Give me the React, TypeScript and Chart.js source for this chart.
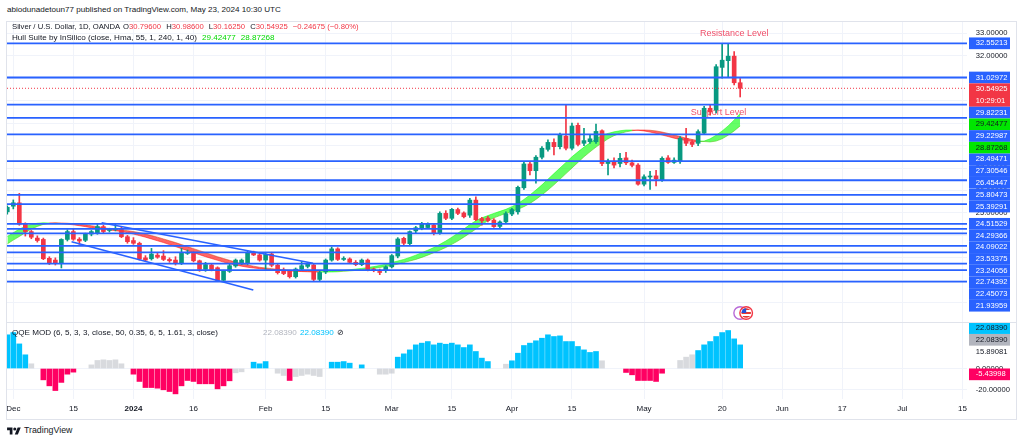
import { useEffect, useRef } from "react";
import { Chart, registerables } from "chart.js";

Chart.register(...registerables);

// Silver / U.S. Dollar, 1D, OANDA. Bar 0 is 30 Nov 2023, bar 122 is 23 May 2024.
const tickIndex = [1, 11, 21, 31, 43, 53, 64, 74, 84, 94, 106, 119, 129, 139, 149, 159];
const tickLabels = ["Dec", "15", "2024", "16", "Feb", "15", "Mar", "15", "Apr", "15", "May", "20", "Jun", "17", "Jul", "15"];

const opens = [
  25.05, 25.3, 25.45, 24.5, 24.17, 23.88, 23.82, 22.98, 22.9, 22.78,
  23.82, 24.17, 23.83, 23.78, 24.06, 24.12, 24.39, 24.22, 24.26, 24.31,
  23.94, 23.77, 23.65, 23.0, 22.96, 23.12, 23.08, 22.93, 22.9, 22.76,
  23.2, 23.2, 22.87, 22.49, 22.68, 22.56, 22.0, 22.4, 22.64, 22.75,
  22.74, 23.25, 23.13, 22.9, 23.17, 22.67, 22.45, 22.4, 22.16, 22.5,
  22.62, 22.68, 22.04, 22.38, 22.9, 23.4, 22.93, 22.95, 22.8, 22.7,
  22.9, 22.5, 22.38, 22.43, 22.6, 23.08, 23.87, 23.63, 24.2, 24.34,
  24.35, 24.46, 24.09, 24.98, 24.76, 25.15, 25.0, 24.9, 25.57, 24.75,
  24.77, 24.68, 24.4, 24.6, 24.95, 25.05, 26.12, 27.18, 26.88, 27.48,
  27.83, 28.14, 27.95, 28.42, 27.88, 28.9, 28.1, 28.17, 28.17, 28.66,
  27.2, 27.3, 27.2, 27.45, 27.23, 27.13, 26.28, 26.6, 26.65, 26.47,
  27.45, 27.25, 27.28, 28.32, 28.15, 28.1, 28.55, 29.66, 29.58, 31.48,
  31.78, 31.98, 30.796,
];
const highs = [
  25.32, 25.58, 25.87, 24.56, 24.22, 23.98, 23.88, 23.05, 23.0, 23.85,
  24.25, 24.3, 23.9, 24.1, 24.22, 24.5, 24.45, 24.32, 24.5, 24.4,
  24.0, 23.9, 23.7, 23.1, 23.42, 23.2, 23.32, 23.0, 23.05, 23.42,
  23.35, 23.28, 22.9, 22.8, 22.75, 22.6, 22.45, 22.72, 22.95, 22.95,
  23.3, 23.3, 23.2, 23.2, 23.25, 22.72, 22.55, 22.45, 22.55, 22.83,
  22.8, 22.75, 22.4, 22.95, 23.48, 23.45, 23.05, 23.0, 22.88, 22.95,
  22.95, 22.55, 22.5, 22.65, 23.15, 23.9, 23.92, 24.2, 24.4, 24.58,
  24.56, 24.5, 25.05, 25.1, 25.2, 25.22, 25.05, 25.65, 25.72, 24.8,
  24.85, 24.75, 24.65, 25.05, 25.2, 26.2, 27.25, 27.3, 27.55, 27.95,
  28.25, 28.3, 28.55, 29.8, 29.0, 29.0, 28.77, 28.5, 28.96, 28.7,
  27.4, 27.45, 27.65, 27.7, 27.35, 27.2, 26.7, 26.85, 26.9, 27.5,
  27.55, 27.45, 28.4, 28.77, 28.25, 28.7, 29.75, 29.8, 31.6, 32.52,
  32.52, 32.18, 30.986,
];
const lows = [
  24.95, 25.18, 24.45, 23.97, 23.85, 23.7, 22.92, 22.7, 22.68, 22.55,
  23.75, 23.78, 23.6, 23.72, 23.98, 24.05, 24.12, 24.15, 24.2, 23.9,
  23.65, 23.6, 22.9, 22.85, 22.9, 22.98, 22.88, 22.8, 22.68, 22.7,
  23.15, 22.82, 22.4, 22.4, 22.42, 21.95, 21.95, 22.35, 22.58, 22.7,
  22.7, 23.1, 22.85, 22.49, 22.6, 22.28, 22.25, 22.1, 22.1, 22.45,
  22.55, 21.94, 21.95, 22.3, 22.85, 22.88, 22.88, 22.75, 22.65, 22.65,
  22.42, 22.38, 22.25, 22.35, 22.55, 23.0, 23.55, 23.55, 24.12, 24.25,
  24.3, 24.02, 24.05, 24.7, 24.7, 24.92, 24.78, 24.8, 24.65, 24.46,
  24.6, 24.35, 24.3, 24.55, 24.88, 24.95, 26.05, 26.69, 26.32, 27.4,
  27.75, 27.58, 27.85, 27.8, 27.8, 27.98, 28.0, 28.1, 28.1, 27.1,
  26.69, 27.0, 27.05, 27.15, 27.05, 26.24, 26.2, 26.05, 26.2, 26.4,
  27.2, 27.2, 27.2, 28.0, 27.95, 28.0, 28.5, 29.35, 29.45, 31.0,
  31.07, 30.7, 30.1625,
];
const closes = [
  25.25, 25.45, 24.5, 24.17, 23.92, 23.77, 22.96, 22.78, 22.76, 23.82,
  24.17, 23.83, 23.75, 24.06, 24.17, 24.39, 24.17, 24.26, 24.31, 23.94,
  23.72, 23.65, 22.95, 22.9, 23.17, 23.03, 22.93, 22.87, 22.75, 23.2,
  23.25, 22.87, 22.49, 22.7, 22.48, 21.99, 22.4, 22.65, 22.9, 22.9,
  23.25, 23.13, 22.9, 23.15, 22.67, 22.34, 22.3, 22.16, 22.5, 22.65,
  22.75, 22.04, 22.35, 22.9, 23.4, 22.93, 22.97, 22.8, 22.7, 22.9,
  22.47, 22.43, 22.35, 22.6, 23.1, 23.84, 23.65, 24.17, 24.34, 24.5,
  24.52, 24.09, 24.98, 24.76, 25.16, 24.98, 24.83, 25.57, 24.7, 24.65,
  24.66, 24.39, 24.6, 24.97, 25.15, 26.14, 27.18, 26.88, 27.48, 27.88,
  28.14, 27.95, 28.46, 27.88, 28.87, 28.05, 28.22, 28.3, 28.63, 27.2,
  27.3, 27.13, 27.43, 27.23, 27.12, 26.28, 26.61, 26.63, 26.52, 27.43,
  27.25, 27.35, 28.32, 28.1, 28.05, 28.62, 29.66, 29.5, 31.51, 31.8,
  31.98, 30.796, 30.54925,
];

// Hull Suite (close, Hma 55); the first two values belong to the two bars before bar 0
const hullValues = [
  23.62, 23.79, 23.95, 24.12, 24.28, 24.4, 24.49, 24.54, 24.56, 24.55,
  24.54, 24.52, 24.5, 24.47, 24.43, 24.39, 24.34, 24.3, 24.27, 24.24,
  24.21, 24.17, 24.12, 24.06, 23.99, 23.92, 23.84, 23.76, 23.68, 23.59,
  23.5, 23.41, 23.32, 23.23, 23.14, 23.05, 22.97, 22.89, 22.81, 22.74,
  22.68, 22.63, 22.58, 22.55, 22.52, 22.49, 22.47, 22.45, 22.43, 22.41,
  22.4, 22.39, 22.38, 22.37, 22.37, 22.38, 22.4, 22.42, 22.44, 22.47,
  22.5, 22.53, 22.57, 22.61, 22.66, 22.72, 22.79, 22.86, 22.93, 23.02,
  23.12, 23.23, 23.34, 23.46, 23.6, 23.75, 23.92, 24.1, 24.28, 24.48,
  24.65, 24.78, 24.88, 24.98, 25.07, 25.16, 25.28, 25.42, 25.6, 25.8,
  26.02, 26.25, 26.5, 26.75, 27.0, 27.25, 27.5, 27.72, 27.93, 28.12,
  28.3, 28.44, 28.54, 28.61, 28.66, 28.69, 28.69, 28.68, 28.65, 28.6,
  28.54, 28.47, 28.4, 28.33, 28.27, 28.22, 28.18, 28.16, 28.2, 28.3,
  28.46, 28.65, 28.87268, 29.14, 29.42477,
];

// horizontal levels drawn by the author
const levels = [
  32.55213, 31.02972, 29.82231, 29.22987, 28.49471, 27.30546, 26.45447, 25.80473, 25.39291,
  24.51529, 24.29366, 24.09022, 23.53375, 23.24056, 22.74392, 22.45073, 21.93959,
];

// descending channel, each end as [bar, price]
const channelUpper = [[15.7, 24.56], [50.9, 22.76]];
const channelLower = [[10.7, 23.72], [40.95, 21.57]];

const notes = [
  { text: "Resistance Level", bar: 121, price: 33.0 },
  { text: "Support Level", bar: 118.4, price: 29.48 },
];
const eventBars = [122, 123];
const countdown = "10:29:01";

// QQE MOD histogram, signal: 1 confirmed up, -1 confirmed down, 0 unconfirmed
const qqeHist = [
  31.5, 33.6, 23.0, 12.8, 4.4, null, -10.6, -16.2, -20.6, -13.0,
  -5.3, -3.4, null, null, 3.4, 7.5, 8.1, 7.5, 8.1, 4.4,
  null, -5.3, -12.1, -17.8, -17.8, -18.4, -19.9, -21.5, -23.7, -16.2,
  -11.2, -12.1, -14.3, -14.3, -14.3, -19.0, -16.2, -11.5, -4.0, -3.1,
  null, 5.9, 4.4, 6.5, null, -4.4, -6.5, -11.2, -7.5, -6.5,
  -5.3, -6.5, -7.5, null, 5.9, 5.9, 6.5, 5.0, null, 3.4,
  null, null, -5.3, -5.3, -4.4, 10.6, 13.7, 17.4, 22.1, 23.7,
  25.2, 22.1, 23.7, 22.7, 23.7, 22.1, 19.6, 22.1, 15.9, 9.7,
  6.5, null, null, 4.0, 7.2, 14.3, 21.5, 23.7, 25.9, 28.3,
  31.5, 29.9, 30.5, 25.2, 25.2, 20.6, 17.4, 15.0, 15.9, 7.2,
  null, null, null, -3.7, -5.9, -11.2, -11.2, -11.2, -12.1, -4.4,
  null, null, 7.5, 10.6, 12.8, 16.8, 22.1, 25.2, 29.9, 33.6,
  35.5, 27.7, 22.0839,
];
const qqeSignal = [
  1, 1, 1, 1, 0, 0, -1, -1, -1, -1,
  -1, -1, 0, 0, 0, 0, 0, 0, 0, 0,
  0, -1, -1, -1, -1, -1, -1, -1, -1, -1,
  -1, -1, -1, -1, -1, -1, -1, -1, 0, 0,
  0, 1, 1, 1, 0, 0, 0, -1, 0, 0,
  0, 0, 0, 0, 1, 1, 1, 1, 0, 1,
  0, 0, 0, 0, 0, 1, 1, 1, 1, 1,
  1, 1, 1, 1, 1, 1, 1, 1, 1, 1,
  1, 0, 0, 0, 1, 1, 1, 1, 1, 1,
  1, 1, 1, 1, 1, 1, 1, 1, 1, 0,
  0, 0, 0, -1, -1, -1, -1, -1, -1, -1,
  0, 0, 0, 0, 0, 1, 1, 1, 1, 1,
  1, 1, 1,
];
const qqeTicks = [-20, 0];
const qqeTags = [
  { value: -5.43998, kind: "down" },
  { value: 15.89081, kind: "line" },
  { value: 22.0839, kind: "histo" },
  { value: 22.0839, kind: "up" },
];

const FONT = '"Liberation Sans", Arial, sans-serif';
const TEXT = "#131722";
const GRID = "#f0f3fa";
const FRAME = "#e0e3eb";
const UP = "#089981";
const DOWN = "#f23645";
const LEVEL = "#2962ff";
const HULL_TAG = "#00e600";
const NOTE = "#f0506a";
const QQE_COLORS: Record<string, string> = { "1": "#00c3ff", "-1": "#ff0062", "0": "rgba(178,181,190,0.5)" };
const TAG_STYLE: Record<string, { bg: string | null; fg: string }> = {
  up: { bg: "#00c3ff", fg: TEXT },
  histo: { bg: "#b2b5be", fg: TEXT },
  line: { bg: null, fg: TEXT },
  down: { bg: "#ff0062", fg: "#fff" },
};

const X_MIN = -0.05;
const X_MAX = 159.76;
const PRICE_MIN = 20.144;
const PRICE_MAX = 33.545;
const QQE_MIN = -28.5;
const QQE_MAX = 43.46;
const TAG_H = 11.7;

const bars = closes.map((_, i) => i);
const last = closes.length - 1;
const hullAt = (i: number) => hullValues[i + 2];
const rising = (i: number) => hullAt(i) > hullAt(i - 2);
const candleColor = (c: any) => (closes[c.dataIndex] >= opens[c.dataIndex] ? UP : DOWN);
const signed = (v: number, d: number) => (v < 0 ? "\u2212" : "") + Math.abs(v).toFixed(d);

type Tag = { value: number; lines: string[]; bg: string | null; fg: string };

function drawTags(chart: any, tags: Tag[], downwards: boolean) {
  const { ctx, chartArea } = chart;
  const y = chart.scales.y;
  const sorted = [...tags].sort((a, b) => (downwards ? b.value - a.value : a.value - b.value));
  let edge = downwards ? -Infinity : Infinity;
  const placed: { t: Tag; top: number; h: number }[] = [];
  for (const t of sorted) {
    const h = TAG_H * t.lines.length;
    const want = y.getPixelForValue(t.value) - TAG_H / 2;
    let top: number;
    if (downwards) {
      top = Math.max(want, edge);
      edge = top + h;
    } else {
      top = Math.min(want, edge - h);
      edge = top;
    }
    placed.push({ t, top, h });
  }
  ctx.save();
  ctx.font = `7.6px ${FONT}`;
  ctx.textAlign = "left";
  ctx.textBaseline = "middle";
  for (const p of placed) {
    if (p.t.bg) {
      ctx.fillStyle = p.t.bg;
      ctx.fillRect(chartArea.right + 2, p.top, 41, p.h);
    }
    ctx.fillStyle = p.t.fg;
    p.t.lines.forEach((line, k) => ctx.fillText(line, chartArea.right + 8.7, p.top + TAG_H * (k + 0.5)));
  }
  ctx.restore();
}

const mainTagsPlugin = {
  id: "mainTags",
  afterDraw(chart: any) {
    const lastDown = closes[last] < opens[last];
    drawTags(
      chart,
      [
        ...levels.map((v) => ({ value: v, lines: [v.toFixed(5)], bg: LEVEL, fg: "#fff" })),
        { value: closes[last], lines: [closes[last].toFixed(5), countdown], bg: lastDown ? DOWN : UP, fg: "#fff" },
        { value: hullAt(last), lines: [hullAt(last).toFixed(5)], bg: HULL_TAG, fg: TEXT },
        { value: hullAt(last - 2), lines: [hullAt(last - 2).toFixed(5)], bg: HULL_TAG, fg: TEXT },
      ],
      true
    );
  },
};

const qqeTagsPlugin = {
  id: "qqeTags",
  afterDraw(chart: any) {
    drawTags(
      chart,
      qqeTags.map((t) => ({ value: t.value, lines: [t.value.toFixed(5)], ...TAG_STYLE[t.kind] })),
      false
    );
  },
};

const notesPlugin = {
  id: "notes",
  beforeDatasetsDraw(chart: any) {
    const { ctx, scales } = chart;
    ctx.save();
    ctx.font = `9px ${FONT}`;
    ctx.fillStyle = NOTE;
    ctx.textAlign = "center";
    ctx.textBaseline = "middle";
    for (const n of notes) ctx.fillText(n.text, scales.x.getPixelForValue(n.bar), scales.y.getPixelForValue(n.price));
    ctx.restore();
  },
};

const eventsPlugin = {
  id: "events",
  afterDatasetsDraw(chart: any) {
    const { ctx, chartArea, scales } = chart;
    const cy = chartArea.bottom - 9;
    const [a, b] = eventBars.map((v) => scales.x.getPixelForValue(v));
    ctx.save();
    ctx.lineWidth = 1.4;
    ctx.fillStyle = "#fff";
    ctx.strokeStyle = "#b86ad8";
    ctx.beginPath();
    ctx.arc(a, cy, 6.3, 0, Math.PI * 2);
    ctx.fill();
    ctx.stroke();
    ctx.strokeStyle = DOWN;
    ctx.beginPath();
    ctx.arc(b, cy, 6.3, 0, Math.PI * 2);
    ctx.fill();
    ctx.stroke();
    ctx.beginPath();
    ctx.arc(b, cy, 4.8, 0, Math.PI * 2);
    ctx.clip();
    for (let k = 0; k < 5; k++) {
      ctx.fillStyle = k % 2 ? "#fff" : "#e53935";
      ctx.fillRect(b - 5, cy - 5 + k * 2, 10, 2);
    }
    ctx.fillStyle = "#2450d8";
    ctx.fillRect(b - 5, cy - 5, 5, 5);
    ctx.restore();
  },
};

// the axes must not reserve room for half-labels at their ends
const noPadding = (s: any) => {
  s.paddingTop = 0;
  s.paddingBottom = 0;
  s.paddingLeft = 0;
  s.paddingRight = 0;
};

function timeAxis(showLabels: boolean): any {
  return {
    type: "linear",
    min: X_MIN,
    max: X_MAX,
    offset: false,
    afterBuildTicks: (s: any) => {
      s.ticks = tickIndex.map((value) => ({ value }));
    },
    afterFit: (s: any) => {
      s.height = showLabels ? 20 : 0;
      noPadding(s);
    },
    grid: { color: GRID, drawTicks: false, offset: false },
    border: { display: false },
    ticks: {
      display: showLabels,
      autoSkip: false,
      maxRotation: 0,
      padding: 5,
      color: TEXT,
      font: (c: any) => ({ family: FONT, size: 8, weight: tickLabels[c.index] === "2024" ? "bold" : "normal" }),
      callback: (_v: any, i: number) => tickLabels[i],
    },
  };
}

function valueAxis(min: number, max: number, step: number, buildTicks: (s: any) => void): any {
  return {
    type: "linear",
    position: "right",
    min,
    max,
    beginAtZero: false,
    afterBuildTicks: buildTicks,
    afterFit: (s: any) => {
      s.width = 50;
      noPadding(s);
    },
    grid: { color: GRID, drawTicks: false },
    border: { display: false },
    ticks: {
      stepSize: step,
      padding: 8.7,
      color: TEXT,
      font: { family: FONT, size: 7.6 },
      callback: (v: any) => Number(v).toFixed(5),
    },
  };
}

const baseOptions = {
  responsive: false,
  animation: false,
  events: [],
  layout: { padding: { left: 7, right: 0, top: 0, bottom: 0 }, autoPadding: false },
  plugins: { legend: { display: false }, tooltip: { enabled: false } },
};

function flatLine(y: number, color: string, width: number, dash: number[] = []) {
  return {
    type: "line",
    data: [
      { x: X_MIN, y },
      { x: X_MAX, y },
    ],
    borderColor: color,
    borderWidth: width,
    borderDash: dash,
    pointRadius: 0,
    order: 0,
  };
}

function mainConfig(): any {
  const hullSegment = {
    borderColor: (c: any) => (rising(c.p1DataIndex) ? "rgba(0,255,0,0.5)" : "rgba(255,0,0,0.5)"),
  };
  return {
    type: "bar",
    data: {
      datasets: [
        {
          type: "line",
          data: bars.map((i) => ({ x: i, y: hullAt(i) })),
          borderColor: "rgba(0,255,0,0.5)",
          borderWidth: 1,
          pointRadius: 0,
          segment: hullSegment,
          fill: { target: 1, above: "rgba(0,255,0,0.6)", below: "rgba(255,0,0,0.6)" },
          order: 4,
        },
        {
          type: "line",
          data: bars.map((i) => ({ x: i, y: hullAt(i - 2) })),
          borderColor: "rgba(0,255,0,0.5)",
          borderWidth: 1,
          pointRadius: 0,
          segment: hullSegment,
          fill: false,
          order: 5,
        },
        {
          type: "bar",
          data: bars.map((i) => ({ x: i, y: [lows[i], highs[i]] })),
          backgroundColor: candleColor,
          barThickness: 1,
          grouped: false,
          order: 3,
        },
        {
          type: "bar",
          data: bars.map((i) => ({ x: i, y: [opens[i], closes[i]] })),
          backgroundColor: candleColor,
          barThickness: 4,
          minBarLength: 1,
          grouped: false,
          order: 2,
        },
        ...[channelUpper, channelLower].map((seg) => ({
          type: "line",
          data: seg.map(([x, y]) => ({ x, y })),
          borderColor: LEVEL,
          borderWidth: 1.5,
          pointRadius: 0,
          order: 1,
        })),
        ...levels.map((v) => flatLine(v, LEVEL, 1.8)),
        flatLine(closes[last], DOWN, 1, [1, 2]),
      ],
    },
    options: {
      ...baseOptions,
      scales: {
        x: timeAxis(false),
        y: valueAxis(PRICE_MIN, PRICE_MAX, 1, (s: any) => {
          s.ticks = s.ticks.filter((t: any) => Number.isInteger(t.value));
        }),
      },
    },
    plugins: [notesPlugin, eventsPlugin, mainTagsPlugin],
  };
}

function qqeConfig(): any {
  return {
    type: "bar",
    data: {
      datasets: [
        {
          data: bars.map((i) => ({ x: i, y: qqeHist[i] })),
          backgroundColor: (c: any) => QQE_COLORS[String(qqeSignal[c.dataIndex])],
          barThickness: 5,
          grouped: false,
        },
      ],
    },
    options: {
      ...baseOptions,
      scales: {
        x: timeAxis(true),
        y: valueAxis(QQE_MIN, QQE_MAX, 20, (s: any) => {
          s.ticks = qqeTicks.map((value) => ({ value }));
        }),
      },
    },
    plugins: [qqeTagsPlugin],
  };
}

const red = { color: DOWN };
const lime = { color: "#00d900" };

export default function App() {
  const mainRef = useRef<HTMLCanvasElement>(null);
  const qqeRef = useRef<HTMLCanvasElement>(null);

  useEffect(() => {
    if (!mainRef.current || !qqeRef.current) return;
    const main = new Chart(mainRef.current, mainConfig());
    const qqe = new Chart(qqeRef.current, qqeConfig());
    return () => {
      main.destroy();
      qqe.destroy();
    };
  }, []);

  const change = closes[last] - closes[last - 1];
  const pct = (change / closes[last - 1]) * 100;
  const row: any = { position: "absolute", whiteSpace: "nowrap", fontSize: 8.1, lineHeight: "10px" };

  return (
    <div
      style={{
        position: "fixed",
        left: 0,
        top: 0,
        width: 1024,
        height: 443,
        background: "#fff",
        fontFamily: FONT,
        color: TEXT,
        overflow: "hidden",
      }}
    >
      <div style={{ ...row, left: 7, top: 5 }}>abiodunadetoun77 published on TradingView.com, May 23, 2024 10:30 UTC</div>
      <canvas ref={mainRef} width={1017} height={301} style={{ position: "absolute", left: 0, top: 21 }} />
      <canvas ref={qqeRef} width={1017} height={97} style={{ position: "absolute", left: 0, top: 322 }} />
      <div
        style={{
          position: "absolute",
          left: 6,
          top: 21,
          width: 1011,
          height: 399,
          boxSizing: "border-box",
          border: `1px solid ${FRAME}`,
          pointerEvents: "none",
        }}
      />
      <div style={{ position: "absolute", left: 6, top: 322, width: 1011, height: 1, background: FRAME }} />
      <div style={{ ...row, left: 12, top: 22, fontSize: 7.7 }}>
        Silver / U.S. Dollar, 1D, OANDA
        <span style={{ marginLeft: 3 }}>
          O<span style={red}>{opens[last].toFixed(5)}</span>
        </span>
        <span style={{ marginLeft: 5 }}>
          H<span style={red}>{highs[last].toFixed(5)}</span>
        </span>
        <span style={{ marginLeft: 5 }}>
          L<span style={red}>{lows[last].toFixed(5)}</span>
        </span>
        <span style={{ marginLeft: 5 }}>
          C<span style={red}>{closes[last].toFixed(5)}</span>
        </span>
        <span style={{ ...red, marginLeft: 5 }}>
          {signed(change, 5)} ({signed(pct, 2)}%)
        </span>
      </div>
      <div style={{ ...row, left: 12, top: 33 }}>
        Hull Suite by InSilico (close, Hma, 55, 1, 240, 1, 40)
        <span style={{ ...lime, marginLeft: 5 }}>{hullAt(last).toFixed(5)}</span>
        <span style={{ ...lime, marginLeft: 5 }}>{hullAt(last - 2).toFixed(5)}</span>
      </div>
      <div style={{ ...row, left: 12, top: 328 }}>QQE MOD (6, 5, 3, 3, close, 50, 0.35, 6, 5, 1.61, 3, close)</div>
      <div style={{ ...row, left: 263, top: 328, color: "#b2b5be" }}>{qqeHist[last]!.toFixed(5)}</div>
      <div style={{ ...row, left: 300, top: 328, color: "#00c3ff" }}>{qqeHist[last]!.toFixed(5)}</div>
      <div style={{ ...row, left: 337, top: 328 }}>{"\u2298"}</div>
      <div style={{ position: "absolute", left: 7, top: 425, display: "flex", alignItems: "center", gap: 3 }}>
        <svg width="14" height="10" viewBox="0 0 36 26">
          <path d="M14 22H7V11H0V4h14v18zM28 22h-8l7.5-18h8L28 22z" fill={TEXT} />
          <circle cx="20" cy="8" r="4" fill={TEXT} />
        </svg>
        <span style={{ fontSize: 8.8, lineHeight: "11px" }}>TradingView</span>
      </div>
    </div>
  );
}
